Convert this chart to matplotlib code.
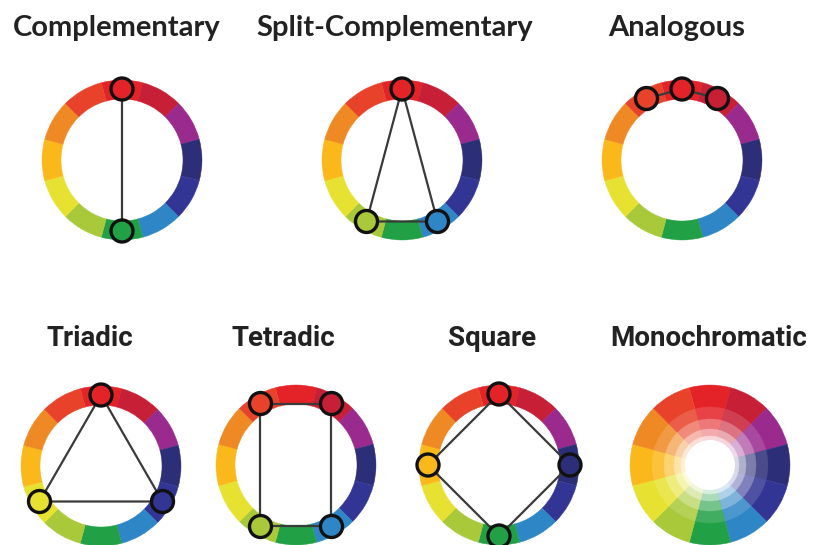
import numpy as np
import matplotlib
matplotlib.use("Agg")
import matplotlib.pyplot as plt
from matplotlib.patches import Wedge, Circle
from matplotlib.colors import to_rgb

# 12 hues, clockwise from the top (degrees)
hue_angles = [0, 30, 60, 90, 120, 150, 180, 210, 240, 270, 300, 330]
hue_colors = ["#E42328", "#C71F35", "#9A2A8E", "#2C2E77", "#323594", "#2F86C6",
              "#22A046", "#A9C93A", "#E7E232", "#FBB81B", "#EF8924", "#E8432A"]

titles = ["Complementary", "Split-Complementary", "Analogous",
          "Triadic", "Tetradic", "Square", "Monochromatic"]
# which hues are picked in each scheme
schemes = {
    "Complementary": [0, 180],
    "Split-Complementary": [0, 150, 210],
    "Analogous": [330, 0, 30],
    "Triadic": [0, 120, 240],
    "Tetradic": [330, 30, 150, 210],
    "Square": [0, 90, 180, 270],
}
# how the picked hues are joined (closed polygon or open path)
closed = {"Complementary": False, "Split-Complementary": True, "Analogous": False,
          "Triadic": True, "Tetradic": True, "Square": True}

# monochromatic tint steps (0 = pure hue, 1 = white)
mono_tints = [0.0, 0.14, 0.38, 0.62, 0.82]

centers = {
    "Complementary": (122, 160), "Split-Complementary": (402, 160), "Analogous": (682, 160),
    "Triadic": (101, 466), "Tetradic": (296, 465), "Square": (499, 465),
    "Monochromatic": (710, 465),
}
title_pos = {
    "Complementary": (117, 28), "Split-Complementary": (395, 28), "Analogous": (677, 28),
    "Triadic": (90, 339), "Tetradic": (283, 339), "Square": (492, 339),
    "Monochromatic": (709, 339),
}

R_OUT, R_IN, R_MARK, MARK_SIZE = 80, 61, 71, 11

fig = plt.figure(figsize=(8.23, 5.45), dpi=100)
ax = fig.add_axes([0, 0, 1, 1])
ax.set_xlim(0, 823)
ax.set_ylim(545, 0)
ax.set_aspect("equal")
ax.axis("off")


def pos(cx, cy, r, t):
    a = np.radians(t)
    return cx + r * np.sin(a), cy - r * np.cos(a)


def tint(c, f):
    c = np.array(to_rgb(c))
    return tuple(c + (1 - c) * f)


# ring wheels
for name, picks in schemes.items():
    cx, cy = centers[name]
    for t, col in zip(hue_angles, hue_colors):
        ax.add_patch(Wedge((cx, cy), R_OUT, t - 15 - 90, t + 15 - 90,
                           width=R_OUT - R_IN, facecolor=col, edgecolor=col, lw=0.3))
    pts = [pos(cx, cy, R_MARK, t) for t in picks]
    xs = [p[0] for p in pts]
    ys = [p[1] for p in pts]
    if closed[name]:
        xs.append(xs[0])
        ys.append(ys[0])
    ax.plot(xs, ys, color="#3a3a3a", lw=1.6, zorder=3)
    for t, (x, y) in zip(picks, pts):
        col = hue_colors[hue_angles.index(t)]
        ax.add_patch(Circle((x, y), MARK_SIZE, facecolor=col, edgecolor="#111111",
                            lw=2.4, zorder=4))

# monochromatic wheel
cx, cy = centers["Monochromatic"]
radii = [80, 58, 46, 36, 29]
for r, f in zip(radii, mono_tints):
    for t, col in zip(hue_angles, hue_colors):
        c = tint(col, f)
        ax.add_patch(Wedge((cx, cy), r, t - 15 - 90, t + 15 - 90,
                           facecolor=c, edgecolor=c, lw=0.3))
ax.add_patch(Circle((cx, cy), 25, facecolor="white", edgecolor="none"))

# titles
top_font = ["Lato", "DejaVu Sans"]
bottom_font = ["Liberation Sans Narrow", "Roboto", "DejaVu Sans"]
for i, name in enumerate(titles):
    x, y = title_pos[name]
    fam = top_font if i < 3 else bottom_font
    ax.text(x, y, name, ha="center", va="center", fontsize=21 if i < 3 else 20,
            fontweight="bold", color="#222222", family=fam)

fig.savefig("out.png", dpi=100)
